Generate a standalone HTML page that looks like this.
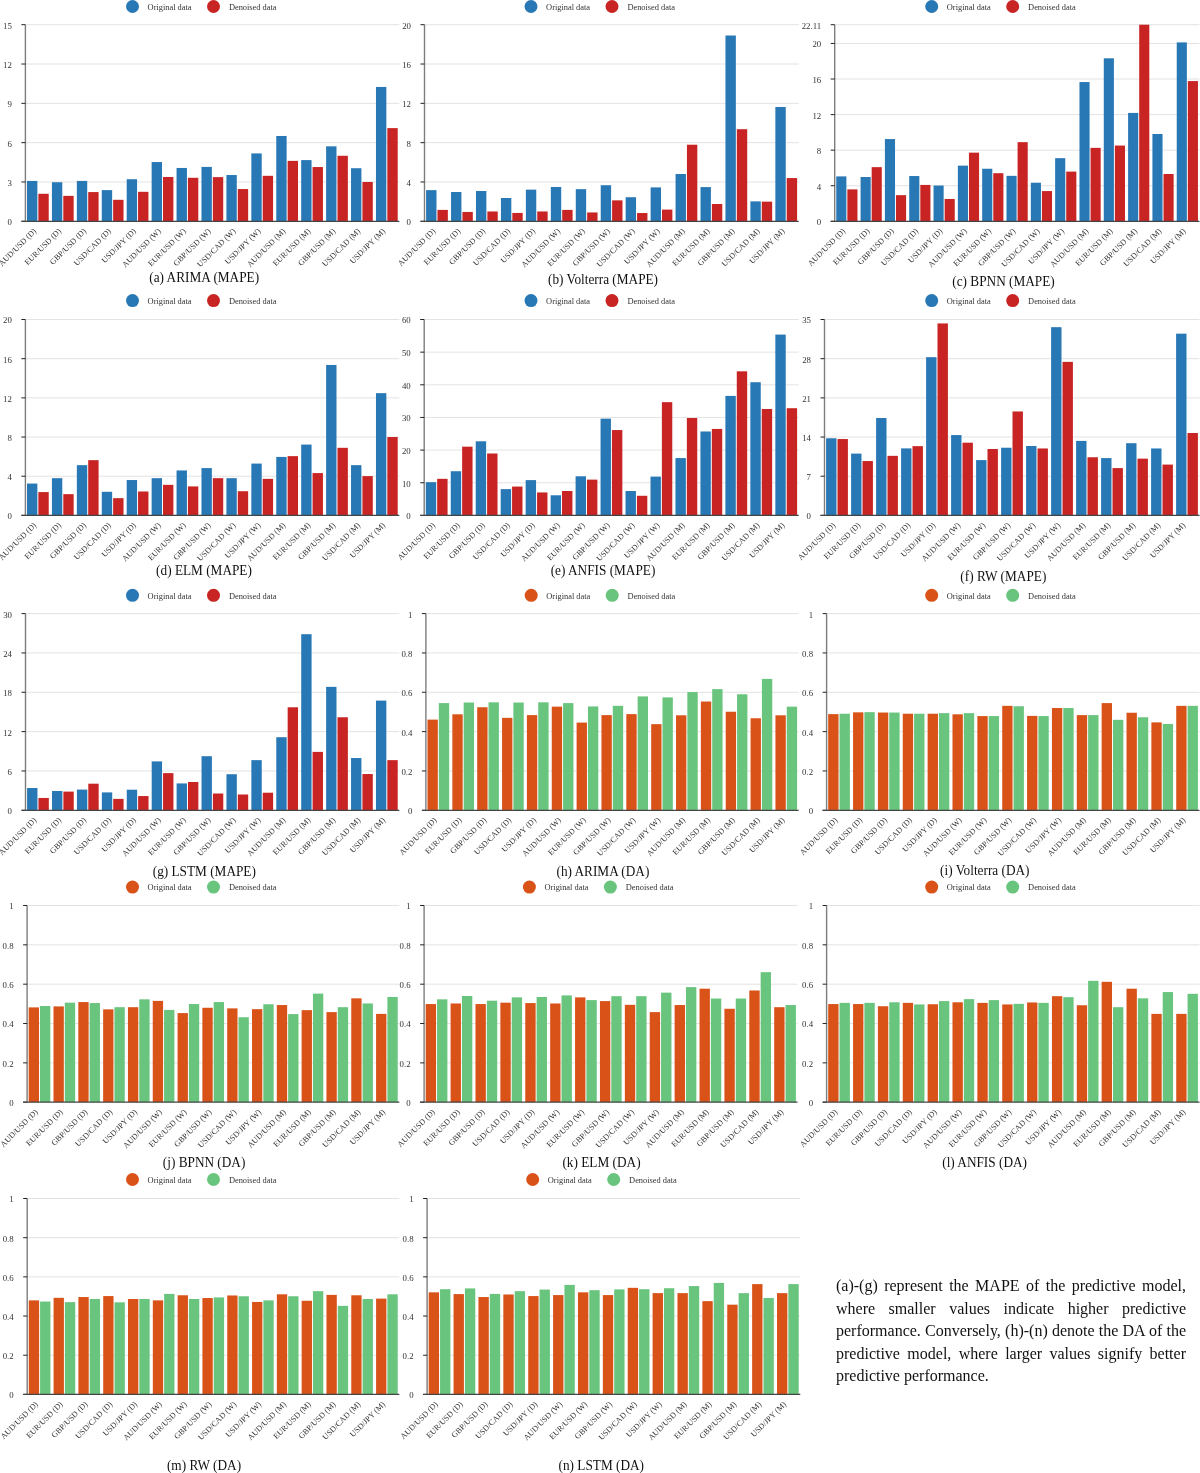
<!DOCTYPE html>
<html><head><meta charset="utf-8"><title>Figure</title>
<style>
html,body{margin:0;padding:0;background:#fff;}
body{width:1200px;height:1473px;position:relative;overflow:hidden;font-family:"Liberation Serif",serif;}
svg{position:absolute;left:0;top:0;will-change:transform;}
.yl{font-family:"Liberation Serif",serif;font-size:8.8px;fill:#333;text-anchor:end;}
.xl{font-family:"Liberation Serif",serif;font-size:8.1px;fill:#333;text-anchor:end;dominant-baseline:central;}
.lg{font-family:"Liberation Serif",serif;font-size:8.4px;fill:#333;}
.cap{font-family:"Liberation Serif",serif;font-size:14.6px;fill:#111;text-anchor:middle;}
.note{will-change:transform;position:absolute;left:835.8px;top:1274.9px;width:350px;font-family:"Liberation Serif",serif;font-size:16px;line-height:22.5px;color:#111;}
.note div{text-align:justify;text-align-last:justify;white-space:nowrap;}
.note div.last{text-align:left;text-align-last:left;}
</style></head>
<body>
<svg width="1200" height="1473" viewBox="0 0 1200 1473">
<rect width="1200" height="1473" fill="#fff"/>
<line x1="25.4" y1="181.98" x2="399.3" y2="181.98" stroke="#e3e3e3" stroke-width="1"/>
<line x1="25.4" y1="142.66" x2="399.3" y2="142.66" stroke="#e3e3e3" stroke-width="1"/>
<line x1="25.4" y1="103.34" x2="399.3" y2="103.34" stroke="#e3e3e3" stroke-width="1"/>
<line x1="25.4" y1="64.02" x2="399.3" y2="64.02" stroke="#e3e3e3" stroke-width="1"/>
<line x1="25.4" y1="24.7" x2="399.3" y2="24.7" stroke="#e3e3e3" stroke-width="1"/>
<rect x="27" y="180.93" width="10.37" height="40.37" fill="#2878B5"/>
<rect x="38.36" y="193.78" width="10.37" height="27.52" fill="#C82423"/>
<rect x="51.92" y="182.24" width="10.37" height="39.06" fill="#2878B5"/>
<rect x="63.29" y="195.87" width="10.37" height="25.43" fill="#C82423"/>
<rect x="76.85" y="180.93" width="10.37" height="40.37" fill="#2878B5"/>
<rect x="88.22" y="192.07" width="10.37" height="29.23" fill="#C82423"/>
<rect x="101.78" y="190.11" width="10.37" height="31.19" fill="#2878B5"/>
<rect x="113.14" y="199.81" width="10.37" height="21.49" fill="#C82423"/>
<rect x="126.7" y="179.23" width="10.37" height="42.07" fill="#2878B5"/>
<rect x="138.07" y="191.81" width="10.37" height="29.49" fill="#C82423"/>
<rect x="151.63" y="162.06" width="10.37" height="59.24" fill="#2878B5"/>
<rect x="163" y="177" width="10.37" height="44.3" fill="#C82423"/>
<rect x="176.56" y="167.96" width="10.37" height="53.34" fill="#2878B5"/>
<rect x="187.92" y="177.79" width="10.37" height="43.51" fill="#C82423"/>
<rect x="201.48" y="166.91" width="10.37" height="54.39" fill="#2878B5"/>
<rect x="212.85" y="177.13" width="10.37" height="44.17" fill="#C82423"/>
<rect x="226.41" y="175.03" width="10.37" height="46.27" fill="#2878B5"/>
<rect x="237.78" y="189.06" width="10.37" height="32.24" fill="#C82423"/>
<rect x="251.34" y="153.41" width="10.37" height="67.89" fill="#2878B5"/>
<rect x="262.7" y="175.82" width="10.37" height="45.48" fill="#C82423"/>
<rect x="276.26" y="135.98" width="10.37" height="85.32" fill="#2878B5"/>
<rect x="287.63" y="160.88" width="10.37" height="60.42" fill="#C82423"/>
<rect x="301.19" y="160.09" width="10.37" height="61.21" fill="#2878B5"/>
<rect x="312.56" y="167.04" width="10.37" height="54.26" fill="#C82423"/>
<rect x="326.12" y="146.33" width="10.37" height="74.97" fill="#2878B5"/>
<rect x="337.48" y="155.77" width="10.37" height="65.53" fill="#C82423"/>
<rect x="351.04" y="168.22" width="10.37" height="53.08" fill="#2878B5"/>
<rect x="362.41" y="181.98" width="10.37" height="39.32" fill="#C82423"/>
<rect x="375.97" y="86.96" width="10.37" height="134.34" fill="#2878B5"/>
<rect x="387.34" y="128.11" width="10.37" height="93.19" fill="#C82423"/>
<line x1="25.4" y1="24.7" x2="25.4" y2="221.3" stroke="#7d7d7d" stroke-width="1.4"/>
<line x1="21.4" y1="221.3" x2="25.4" y2="221.3" stroke="#222" stroke-width="1"/>
<line x1="21.4" y1="181.98" x2="25.4" y2="181.98" stroke="#222" stroke-width="1"/>
<line x1="21.4" y1="142.66" x2="25.4" y2="142.66" stroke="#222" stroke-width="1"/>
<line x1="21.4" y1="103.34" x2="25.4" y2="103.34" stroke="#222" stroke-width="1"/>
<line x1="21.4" y1="64.02" x2="25.4" y2="64.02" stroke="#222" stroke-width="1"/>
<line x1="21.4" y1="24.7" x2="25.4" y2="24.7" stroke="#222" stroke-width="1"/>
<line x1="21.4" y1="221.3" x2="399.3" y2="221.3" stroke="#444" stroke-width="1.2"/>
<text x="11.9" y="225.2" class="yl">0</text>
<text x="11.9" y="185.88" class="yl">3</text>
<text x="11.9" y="146.56" class="yl">6</text>
<text x="11.9" y="107.24" class="yl">9</text>
<text x="11.9" y="67.92" class="yl">12</text>
<text x="11.9" y="28.6" class="yl">15</text>
<text class="xl" transform="translate(34.96 229.9) rotate(-45)">AUD/USD (D)</text>
<text class="xl" transform="translate(59.89 229.9) rotate(-45)">EUR/USD (D)</text>
<text class="xl" transform="translate(84.82 229.9) rotate(-45)">GBP/USD (D)</text>
<text class="xl" transform="translate(109.74 229.9) rotate(-45)">USD/CAD (D)</text>
<text class="xl" transform="translate(134.67 229.9) rotate(-45)">USD/JPY (D)</text>
<text class="xl" transform="translate(159.6 229.9) rotate(-45)">AUD/USD (W)</text>
<text class="xl" transform="translate(184.52 229.9) rotate(-45)">EUR/USD (W)</text>
<text class="xl" transform="translate(209.45 229.9) rotate(-45)">GBP/USD (W)</text>
<text class="xl" transform="translate(234.38 229.9) rotate(-45)">USD/CAD (W)</text>
<text class="xl" transform="translate(259.3 229.9) rotate(-45)">USD/JPY (W)</text>
<text class="xl" transform="translate(284.23 229.9) rotate(-45)">AUD/USD (M)</text>
<text class="xl" transform="translate(309.16 229.9) rotate(-45)">EUR/USD (M)</text>
<text class="xl" transform="translate(334.08 229.9) rotate(-45)">GBP/USD (M)</text>
<text class="xl" transform="translate(359.01 229.9) rotate(-45)">USD/CAD (M)</text>
<text class="xl" transform="translate(383.94 229.9) rotate(-45)">USD/JPY (M)</text>
<circle cx="132.5" cy="6.5" r="6.5" fill="#2878B5"/>
<text x="147.6" y="9.8" class="lg">Original data</text>
<circle cx="213.5" cy="6.5" r="6.5" fill="#C82423"/>
<text x="228.9" y="9.8" class="lg">Denoised data</text>
<text class="cap" transform="translate(204.2 282) scale(0.91 1)">(a) ARIMA (MAPE)</text>
<line x1="424.5" y1="181.98" x2="798.7" y2="181.98" stroke="#e3e3e3" stroke-width="1"/>
<line x1="424.5" y1="142.66" x2="798.7" y2="142.66" stroke="#e3e3e3" stroke-width="1"/>
<line x1="424.5" y1="103.34" x2="798.7" y2="103.34" stroke="#e3e3e3" stroke-width="1"/>
<line x1="424.5" y1="64.02" x2="798.7" y2="64.02" stroke="#e3e3e3" stroke-width="1"/>
<line x1="424.5" y1="24.7" x2="798.7" y2="24.7" stroke="#e3e3e3" stroke-width="1"/>
<rect x="426.1" y="190.14" width="10.38" height="31.16" fill="#2878B5"/>
<rect x="437.47" y="209.9" width="10.38" height="11.4" fill="#C82423"/>
<rect x="451.04" y="192.01" width="10.38" height="29.29" fill="#2878B5"/>
<rect x="462.42" y="211.96" width="10.38" height="9.34" fill="#C82423"/>
<rect x="475.99" y="191.02" width="10.38" height="30.28" fill="#2878B5"/>
<rect x="487.37" y="211.47" width="10.38" height="9.83" fill="#C82423"/>
<rect x="500.94" y="198" width="10.38" height="23.3" fill="#2878B5"/>
<rect x="512.31" y="212.94" width="10.38" height="8.36" fill="#C82423"/>
<rect x="525.88" y="189.65" width="10.38" height="31.65" fill="#2878B5"/>
<rect x="537.26" y="211.47" width="10.38" height="9.83" fill="#C82423"/>
<rect x="550.83" y="186.99" width="10.38" height="34.31" fill="#2878B5"/>
<rect x="562.21" y="209.9" width="10.38" height="11.4" fill="#C82423"/>
<rect x="575.78" y="189.16" width="10.38" height="32.14" fill="#2878B5"/>
<rect x="587.15" y="212.45" width="10.38" height="8.85" fill="#C82423"/>
<rect x="600.72" y="185.22" width="10.38" height="36.08" fill="#2878B5"/>
<rect x="612.1" y="200.36" width="10.38" height="20.94" fill="#C82423"/>
<rect x="625.67" y="197.22" width="10.38" height="24.08" fill="#2878B5"/>
<rect x="637.05" y="213.04" width="10.38" height="8.26" fill="#C82423"/>
<rect x="650.62" y="187.39" width="10.38" height="33.91" fill="#2878B5"/>
<rect x="661.99" y="209.6" width="10.38" height="11.7" fill="#C82423"/>
<rect x="675.56" y="174.02" width="10.38" height="47.28" fill="#2878B5"/>
<rect x="686.94" y="144.72" width="10.38" height="76.58" fill="#C82423"/>
<rect x="700.51" y="187.09" width="10.38" height="34.21" fill="#2878B5"/>
<rect x="711.89" y="204" width="10.38" height="17.3" fill="#C82423"/>
<rect x="725.46" y="35.51" width="10.38" height="185.79" fill="#2878B5"/>
<rect x="736.83" y="129.19" width="10.38" height="92.11" fill="#C82423"/>
<rect x="750.4" y="201.35" width="10.38" height="19.95" fill="#2878B5"/>
<rect x="761.78" y="201.64" width="10.38" height="19.66" fill="#C82423"/>
<rect x="775.35" y="106.98" width="10.38" height="114.32" fill="#2878B5"/>
<rect x="786.73" y="178.05" width="10.38" height="43.25" fill="#C82423"/>
<line x1="424.5" y1="24.7" x2="424.5" y2="221.3" stroke="#7d7d7d" stroke-width="1.4"/>
<line x1="420.5" y1="221.3" x2="424.5" y2="221.3" stroke="#222" stroke-width="1"/>
<line x1="420.5" y1="181.98" x2="424.5" y2="181.98" stroke="#222" stroke-width="1"/>
<line x1="420.5" y1="142.66" x2="424.5" y2="142.66" stroke="#222" stroke-width="1"/>
<line x1="420.5" y1="103.34" x2="424.5" y2="103.34" stroke="#222" stroke-width="1"/>
<line x1="420.5" y1="64.02" x2="424.5" y2="64.02" stroke="#222" stroke-width="1"/>
<line x1="420.5" y1="24.7" x2="424.5" y2="24.7" stroke="#222" stroke-width="1"/>
<line x1="420.5" y1="221.3" x2="798.7" y2="221.3" stroke="#444" stroke-width="1.2"/>
<text x="411" y="225.2" class="yl">0</text>
<text x="411" y="185.88" class="yl">4</text>
<text x="411" y="146.56" class="yl">8</text>
<text x="411" y="107.24" class="yl">12</text>
<text x="411" y="67.92" class="yl">16</text>
<text x="411" y="28.6" class="yl">20</text>
<text class="xl" transform="translate(434.07 229.9) rotate(-45)">AUD/USD (D)</text>
<text class="xl" transform="translate(459.02 229.9) rotate(-45)">EUR/USD (D)</text>
<text class="xl" transform="translate(483.97 229.9) rotate(-45)">GBP/USD (D)</text>
<text class="xl" transform="translate(508.91 229.9) rotate(-45)">USD/CAD (D)</text>
<text class="xl" transform="translate(533.86 229.9) rotate(-45)">USD/JPY (D)</text>
<text class="xl" transform="translate(558.81 229.9) rotate(-45)">AUD/USD (W)</text>
<text class="xl" transform="translate(583.75 229.9) rotate(-45)">EUR/USD (W)</text>
<text class="xl" transform="translate(608.7 229.9) rotate(-45)">GBP/USD (W)</text>
<text class="xl" transform="translate(633.65 229.9) rotate(-45)">USD/CAD (W)</text>
<text class="xl" transform="translate(658.59 229.9) rotate(-45)">USD/JPY (W)</text>
<text class="xl" transform="translate(683.54 229.9) rotate(-45)">AUD/USD (M)</text>
<text class="xl" transform="translate(708.49 229.9) rotate(-45)">EUR/USD (M)</text>
<text class="xl" transform="translate(733.43 229.9) rotate(-45)">GBP/USD (M)</text>
<text class="xl" transform="translate(758.38 229.9) rotate(-45)">USD/CAD (M)</text>
<text class="xl" transform="translate(783.33 229.9) rotate(-45)">USD/JPY (M)</text>
<circle cx="531" cy="6.5" r="6.5" fill="#2878B5"/>
<text x="546.1" y="9.8" class="lg">Original data</text>
<circle cx="612" cy="6.5" r="6.5" fill="#C82423"/>
<text x="627.4" y="9.8" class="lg">Denoised data</text>
<text class="cap" transform="translate(603 284) scale(0.91 1)">(b) Volterra (MAPE)</text>
<line x1="834.7" y1="185.73" x2="1199.5" y2="185.73" stroke="#e3e3e3" stroke-width="1"/>
<line x1="834.7" y1="150.16" x2="1199.5" y2="150.16" stroke="#e3e3e3" stroke-width="1"/>
<line x1="834.7" y1="114.6" x2="1199.5" y2="114.6" stroke="#e3e3e3" stroke-width="1"/>
<line x1="834.7" y1="79.03" x2="1199.5" y2="79.03" stroke="#e3e3e3" stroke-width="1"/>
<line x1="834.7" y1="43.46" x2="1199.5" y2="43.46" stroke="#e3e3e3" stroke-width="1"/>
<line x1="834.7" y1="24.7" x2="1199.5" y2="24.7" stroke="#e3e3e3" stroke-width="1"/>
<rect x="836.26" y="176.4" width="10.12" height="44.9" fill="#2878B5"/>
<rect x="847.35" y="189.38" width="10.12" height="31.92" fill="#C82423"/>
<rect x="860.58" y="177.02" width="10.12" height="44.28" fill="#2878B5"/>
<rect x="871.67" y="167.15" width="10.12" height="54.15" fill="#C82423"/>
<rect x="884.9" y="139.05" width="10.12" height="82.25" fill="#2878B5"/>
<rect x="895.99" y="195.16" width="10.12" height="26.14" fill="#C82423"/>
<rect x="909.22" y="176.04" width="10.12" height="45.26" fill="#2878B5"/>
<rect x="920.31" y="184.93" width="10.12" height="36.37" fill="#C82423"/>
<rect x="933.54" y="185.55" width="10.12" height="35.75" fill="#2878B5"/>
<rect x="944.63" y="198.98" width="10.12" height="22.32" fill="#C82423"/>
<rect x="957.86" y="165.64" width="10.12" height="55.66" fill="#2878B5"/>
<rect x="968.95" y="152.65" width="10.12" height="68.65" fill="#C82423"/>
<rect x="982.18" y="168.75" width="10.12" height="52.55" fill="#2878B5"/>
<rect x="993.27" y="173.19" width="10.12" height="48.11" fill="#C82423"/>
<rect x="1006.5" y="175.86" width="10.12" height="45.44" fill="#2878B5"/>
<rect x="1017.59" y="142.16" width="10.12" height="79.14" fill="#C82423"/>
<rect x="1030.82" y="182.71" width="10.12" height="38.59" fill="#2878B5"/>
<rect x="1041.91" y="191.07" width="10.12" height="30.23" fill="#C82423"/>
<rect x="1055.14" y="158.17" width="10.12" height="63.13" fill="#2878B5"/>
<rect x="1066.23" y="171.59" width="10.12" height="49.71" fill="#C82423"/>
<rect x="1079.46" y="82.05" width="10.12" height="139.25" fill="#2878B5"/>
<rect x="1090.55" y="147.85" width="10.12" height="73.45" fill="#C82423"/>
<rect x="1103.78" y="58.31" width="10.12" height="162.99" fill="#2878B5"/>
<rect x="1114.87" y="145.54" width="10.12" height="75.76" fill="#C82423"/>
<rect x="1128.1" y="112.91" width="10.12" height="108.39" fill="#2878B5"/>
<rect x="1139.19" y="24.7" width="10.12" height="196.6" fill="#C82423"/>
<rect x="1152.42" y="133.98" width="10.12" height="87.32" fill="#2878B5"/>
<rect x="1163.51" y="174" width="10.12" height="47.3" fill="#C82423"/>
<rect x="1176.74" y="42.39" width="10.12" height="178.91" fill="#2878B5"/>
<rect x="1187.83" y="81.07" width="10.12" height="140.23" fill="#C82423"/>
<line x1="834.7" y1="24.7" x2="834.7" y2="221.3" stroke="#7d7d7d" stroke-width="1.4"/>
<line x1="830.7" y1="221.3" x2="834.7" y2="221.3" stroke="#222" stroke-width="1"/>
<line x1="830.7" y1="185.73" x2="834.7" y2="185.73" stroke="#222" stroke-width="1"/>
<line x1="830.7" y1="150.16" x2="834.7" y2="150.16" stroke="#222" stroke-width="1"/>
<line x1="830.7" y1="114.6" x2="834.7" y2="114.6" stroke="#222" stroke-width="1"/>
<line x1="830.7" y1="79.03" x2="834.7" y2="79.03" stroke="#222" stroke-width="1"/>
<line x1="830.7" y1="43.46" x2="834.7" y2="43.46" stroke="#222" stroke-width="1"/>
<line x1="830.7" y1="24.7" x2="834.7" y2="24.7" stroke="#222" stroke-width="1"/>
<line x1="830.7" y1="221.3" x2="1199.5" y2="221.3" stroke="#444" stroke-width="1.2"/>
<text x="821.2" y="225.2" class="yl">0</text>
<text x="821.2" y="189.64" class="yl">4</text>
<text x="821.2" y="154.07" class="yl">8</text>
<text x="821.2" y="118.5" class="yl">12</text>
<text x="821.2" y="82.93" class="yl">16</text>
<text x="821.2" y="47.37" class="yl">20</text>
<text x="821.2" y="28.6" class="yl">22.11</text>
<text class="xl" transform="translate(843.96 229.9) rotate(-45)">AUD/USD (D)</text>
<text class="xl" transform="translate(868.28 229.9) rotate(-45)">EUR/USD (D)</text>
<text class="xl" transform="translate(892.6 229.9) rotate(-45)">GBP/USD (D)</text>
<text class="xl" transform="translate(916.92 229.9) rotate(-45)">USD/CAD (D)</text>
<text class="xl" transform="translate(941.24 229.9) rotate(-45)">USD/JPY (D)</text>
<text class="xl" transform="translate(965.56 229.9) rotate(-45)">AUD/USD (W)</text>
<text class="xl" transform="translate(989.88 229.9) rotate(-45)">EUR/USD (W)</text>
<text class="xl" transform="translate(1014.2 229.9) rotate(-45)">GBP/USD (W)</text>
<text class="xl" transform="translate(1038.52 229.9) rotate(-45)">USD/CAD (W)</text>
<text class="xl" transform="translate(1062.84 229.9) rotate(-45)">USD/JPY (W)</text>
<text class="xl" transform="translate(1087.16 229.9) rotate(-45)">AUD/USD (M)</text>
<text class="xl" transform="translate(1111.48 229.9) rotate(-45)">EUR/USD (M)</text>
<text class="xl" transform="translate(1135.8 229.9) rotate(-45)">GBP/USD (M)</text>
<text class="xl" transform="translate(1160.12 229.9) rotate(-45)">USD/CAD (M)</text>
<text class="xl" transform="translate(1184.44 229.9) rotate(-45)">USD/JPY (M)</text>
<circle cx="931.7" cy="6.5" r="6.5" fill="#2878B5"/>
<text x="946.8" y="9.8" class="lg">Original data</text>
<circle cx="1012.7" cy="6.5" r="6.5" fill="#C82423"/>
<text x="1028.1" y="9.8" class="lg">Denoised data</text>
<text class="cap" transform="translate(1003.5 286.4) scale(0.91 1)">(c) BPNN (MAPE)</text>
<line x1="25.4" y1="476.22" x2="399.3" y2="476.22" stroke="#e3e3e3" stroke-width="1"/>
<line x1="25.4" y1="437.04" x2="399.3" y2="437.04" stroke="#e3e3e3" stroke-width="1"/>
<line x1="25.4" y1="397.86" x2="399.3" y2="397.86" stroke="#e3e3e3" stroke-width="1"/>
<line x1="25.4" y1="358.68" x2="399.3" y2="358.68" stroke="#e3e3e3" stroke-width="1"/>
<line x1="25.4" y1="319.5" x2="399.3" y2="319.5" stroke="#e3e3e3" stroke-width="1"/>
<rect x="27" y="483.57" width="10.37" height="31.83" fill="#2878B5"/>
<rect x="38.36" y="492.09" width="10.37" height="23.31" fill="#C82423"/>
<rect x="51.92" y="478.18" width="10.37" height="37.22" fill="#2878B5"/>
<rect x="63.29" y="494.14" width="10.37" height="21.26" fill="#C82423"/>
<rect x="76.85" y="465.15" width="10.37" height="50.25" fill="#2878B5"/>
<rect x="88.22" y="460.16" width="10.37" height="55.24" fill="#C82423"/>
<rect x="101.78" y="491.79" width="10.37" height="23.61" fill="#2878B5"/>
<rect x="113.14" y="498.16" width="10.37" height="17.24" fill="#C82423"/>
<rect x="126.7" y="480.04" width="10.37" height="35.36" fill="#2878B5"/>
<rect x="138.07" y="491.5" width="10.37" height="23.9" fill="#C82423"/>
<rect x="151.63" y="478.18" width="10.37" height="37.22" fill="#2878B5"/>
<rect x="163" y="484.84" width="10.37" height="30.56" fill="#C82423"/>
<rect x="176.56" y="470.44" width="10.37" height="44.96" fill="#2878B5"/>
<rect x="187.92" y="486.41" width="10.37" height="28.99" fill="#C82423"/>
<rect x="201.48" y="468.09" width="10.37" height="47.31" fill="#2878B5"/>
<rect x="212.85" y="478.18" width="10.37" height="37.22" fill="#C82423"/>
<rect x="226.41" y="478.18" width="10.37" height="37.22" fill="#2878B5"/>
<rect x="237.78" y="491.21" width="10.37" height="24.19" fill="#C82423"/>
<rect x="251.34" y="463.58" width="10.37" height="51.82" fill="#2878B5"/>
<rect x="262.7" y="478.86" width="10.37" height="36.54" fill="#C82423"/>
<rect x="276.26" y="456.92" width="10.37" height="58.48" fill="#2878B5"/>
<rect x="287.63" y="456.14" width="10.37" height="59.26" fill="#C82423"/>
<rect x="301.19" y="444.58" width="10.37" height="70.82" fill="#2878B5"/>
<rect x="312.56" y="473.09" width="10.37" height="42.31" fill="#C82423"/>
<rect x="326.12" y="364.95" width="10.37" height="150.45" fill="#2878B5"/>
<rect x="337.48" y="447.81" width="10.37" height="67.59" fill="#C82423"/>
<rect x="351.04" y="465.15" width="10.37" height="50.25" fill="#2878B5"/>
<rect x="362.41" y="476.12" width="10.37" height="39.28" fill="#C82423"/>
<rect x="375.97" y="393.16" width="10.37" height="122.24" fill="#2878B5"/>
<rect x="387.34" y="437.04" width="10.37" height="78.36" fill="#C82423"/>
<line x1="25.4" y1="319.5" x2="25.4" y2="515.4" stroke="#7d7d7d" stroke-width="1.4"/>
<line x1="21.4" y1="515.4" x2="25.4" y2="515.4" stroke="#222" stroke-width="1"/>
<line x1="21.4" y1="476.22" x2="25.4" y2="476.22" stroke="#222" stroke-width="1"/>
<line x1="21.4" y1="437.04" x2="25.4" y2="437.04" stroke="#222" stroke-width="1"/>
<line x1="21.4" y1="397.86" x2="25.4" y2="397.86" stroke="#222" stroke-width="1"/>
<line x1="21.4" y1="358.68" x2="25.4" y2="358.68" stroke="#222" stroke-width="1"/>
<line x1="21.4" y1="319.5" x2="25.4" y2="319.5" stroke="#222" stroke-width="1"/>
<line x1="21.4" y1="515.4" x2="399.3" y2="515.4" stroke="#444" stroke-width="1.2"/>
<text x="11.9" y="519.3" class="yl">0</text>
<text x="11.9" y="480.12" class="yl">4</text>
<text x="11.9" y="440.94" class="yl">8</text>
<text x="11.9" y="401.76" class="yl">12</text>
<text x="11.9" y="362.58" class="yl">16</text>
<text x="11.9" y="323.4" class="yl">20</text>
<text class="xl" transform="translate(34.96 524) rotate(-45)">AUD/USD (D)</text>
<text class="xl" transform="translate(59.89 524) rotate(-45)">EUR/USD (D)</text>
<text class="xl" transform="translate(84.82 524) rotate(-45)">GBP/USD (D)</text>
<text class="xl" transform="translate(109.74 524) rotate(-45)">USD/CAD (D)</text>
<text class="xl" transform="translate(134.67 524) rotate(-45)">USD/JPY (D)</text>
<text class="xl" transform="translate(159.6 524) rotate(-45)">AUD/USD (W)</text>
<text class="xl" transform="translate(184.52 524) rotate(-45)">EUR/USD (W)</text>
<text class="xl" transform="translate(209.45 524) rotate(-45)">GBP/USD (W)</text>
<text class="xl" transform="translate(234.38 524) rotate(-45)">USD/CAD (W)</text>
<text class="xl" transform="translate(259.3 524) rotate(-45)">USD/JPY (W)</text>
<text class="xl" transform="translate(284.23 524) rotate(-45)">AUD/USD (M)</text>
<text class="xl" transform="translate(309.16 524) rotate(-45)">EUR/USD (M)</text>
<text class="xl" transform="translate(334.08 524) rotate(-45)">GBP/USD (M)</text>
<text class="xl" transform="translate(359.01 524) rotate(-45)">USD/CAD (M)</text>
<text class="xl" transform="translate(383.94 524) rotate(-45)">USD/JPY (M)</text>
<circle cx="132.5" cy="300.6" r="6.5" fill="#2878B5"/>
<text x="147.6" y="303.9" class="lg">Original data</text>
<circle cx="213.5" cy="300.6" r="6.5" fill="#C82423"/>
<text x="228.9" y="303.9" class="lg">Denoised data</text>
<text class="cap" transform="translate(204 574.9) scale(0.91 1)">(d) ELM (MAPE)</text>
<line x1="424.2" y1="482.75" x2="798.7" y2="482.75" stroke="#e3e3e3" stroke-width="1"/>
<line x1="424.2" y1="450.1" x2="798.7" y2="450.1" stroke="#e3e3e3" stroke-width="1"/>
<line x1="424.2" y1="417.45" x2="798.7" y2="417.45" stroke="#e3e3e3" stroke-width="1"/>
<line x1="424.2" y1="384.8" x2="798.7" y2="384.8" stroke="#e3e3e3" stroke-width="1"/>
<line x1="424.2" y1="352.15" x2="798.7" y2="352.15" stroke="#e3e3e3" stroke-width="1"/>
<line x1="424.2" y1="319.5" x2="798.7" y2="319.5" stroke="#e3e3e3" stroke-width="1"/>
<rect x="425.8" y="482.16" width="10.39" height="33.24" fill="#2878B5"/>
<rect x="437.18" y="478.83" width="10.39" height="36.57" fill="#C82423"/>
<rect x="450.76" y="471.22" width="10.39" height="44.18" fill="#2878B5"/>
<rect x="462.15" y="446.67" width="10.39" height="68.73" fill="#C82423"/>
<rect x="475.73" y="441.28" width="10.39" height="74.12" fill="#2878B5"/>
<rect x="487.12" y="453.5" width="10.39" height="61.9" fill="#C82423"/>
<rect x="500.7" y="489.12" width="10.39" height="26.28" fill="#2878B5"/>
<rect x="512.08" y="486.57" width="10.39" height="28.83" fill="#C82423"/>
<rect x="525.66" y="480.11" width="10.39" height="35.29" fill="#2878B5"/>
<rect x="537.05" y="492.45" width="10.39" height="22.95" fill="#C82423"/>
<rect x="550.63" y="495.29" width="10.39" height="20.11" fill="#2878B5"/>
<rect x="562.02" y="491.01" width="10.39" height="24.39" fill="#C82423"/>
<rect x="575.6" y="476.29" width="10.39" height="39.11" fill="#2878B5"/>
<rect x="586.98" y="479.62" width="10.39" height="35.78" fill="#C82423"/>
<rect x="600.56" y="418.66" width="10.39" height="96.74" fill="#2878B5"/>
<rect x="611.95" y="430.05" width="10.39" height="85.35" fill="#C82423"/>
<rect x="625.53" y="491.01" width="10.39" height="24.39" fill="#2878B5"/>
<rect x="636.92" y="495.78" width="10.39" height="19.62" fill="#C82423"/>
<rect x="650.5" y="476.61" width="10.39" height="38.79" fill="#2878B5"/>
<rect x="661.88" y="402.17" width="10.39" height="113.23" fill="#C82423"/>
<rect x="675.46" y="458.07" width="10.39" height="57.33" fill="#2878B5"/>
<rect x="686.85" y="418.01" width="10.39" height="97.39" fill="#C82423"/>
<rect x="700.43" y="431.49" width="10.39" height="83.91" fill="#2878B5"/>
<rect x="711.82" y="428.94" width="10.39" height="86.46" fill="#C82423"/>
<rect x="725.4" y="395.9" width="10.39" height="119.5" fill="#2878B5"/>
<rect x="736.78" y="371.32" width="10.39" height="144.08" fill="#C82423"/>
<rect x="750.36" y="382.22" width="10.39" height="133.18" fill="#2878B5"/>
<rect x="761.75" y="408.99" width="10.39" height="106.41" fill="#C82423"/>
<rect x="775.33" y="334.58" width="10.39" height="180.82" fill="#2878B5"/>
<rect x="786.72" y="408.21" width="10.39" height="107.19" fill="#C82423"/>
<line x1="424.2" y1="319.5" x2="424.2" y2="515.4" stroke="#7d7d7d" stroke-width="1.4"/>
<line x1="420.2" y1="515.4" x2="424.2" y2="515.4" stroke="#222" stroke-width="1"/>
<line x1="420.2" y1="482.75" x2="424.2" y2="482.75" stroke="#222" stroke-width="1"/>
<line x1="420.2" y1="450.1" x2="424.2" y2="450.1" stroke="#222" stroke-width="1"/>
<line x1="420.2" y1="417.45" x2="424.2" y2="417.45" stroke="#222" stroke-width="1"/>
<line x1="420.2" y1="384.8" x2="424.2" y2="384.8" stroke="#222" stroke-width="1"/>
<line x1="420.2" y1="352.15" x2="424.2" y2="352.15" stroke="#222" stroke-width="1"/>
<line x1="420.2" y1="319.5" x2="424.2" y2="319.5" stroke="#222" stroke-width="1"/>
<line x1="420.2" y1="515.4" x2="798.7" y2="515.4" stroke="#444" stroke-width="1.2"/>
<text x="410.7" y="519.3" class="yl">0</text>
<text x="410.7" y="486.65" class="yl">10</text>
<text x="410.7" y="454" class="yl">20</text>
<text x="410.7" y="421.35" class="yl">30</text>
<text x="410.7" y="388.7" class="yl">40</text>
<text x="410.7" y="356.05" class="yl">50</text>
<text x="410.7" y="323.4" class="yl">60</text>
<text class="xl" transform="translate(433.78 524) rotate(-45)">AUD/USD (D)</text>
<text class="xl" transform="translate(458.75 524) rotate(-45)">EUR/USD (D)</text>
<text class="xl" transform="translate(483.72 524) rotate(-45)">GBP/USD (D)</text>
<text class="xl" transform="translate(508.68 524) rotate(-45)">USD/CAD (D)</text>
<text class="xl" transform="translate(533.65 524) rotate(-45)">USD/JPY (D)</text>
<text class="xl" transform="translate(558.62 524) rotate(-45)">AUD/USD (W)</text>
<text class="xl" transform="translate(583.58 524) rotate(-45)">EUR/USD (W)</text>
<text class="xl" transform="translate(608.55 524) rotate(-45)">GBP/USD (W)</text>
<text class="xl" transform="translate(633.52 524) rotate(-45)">USD/CAD (W)</text>
<text class="xl" transform="translate(658.48 524) rotate(-45)">USD/JPY (W)</text>
<text class="xl" transform="translate(683.45 524) rotate(-45)">AUD/USD (M)</text>
<text class="xl" transform="translate(708.42 524) rotate(-45)">EUR/USD (M)</text>
<text class="xl" transform="translate(733.38 524) rotate(-45)">GBP/USD (M)</text>
<text class="xl" transform="translate(758.35 524) rotate(-45)">USD/CAD (M)</text>
<text class="xl" transform="translate(783.32 524) rotate(-45)">USD/JPY (M)</text>
<circle cx="531" cy="300.6" r="6.5" fill="#2878B5"/>
<text x="546.1" y="303.9" class="lg">Original data</text>
<circle cx="612" cy="300.6" r="6.5" fill="#C82423"/>
<text x="627.4" y="303.9" class="lg">Denoised data</text>
<text class="cap" transform="translate(603 574.9) scale(0.91 1)">(e) ANFIS (MAPE)</text>
<line x1="824.5" y1="476.22" x2="1199.5" y2="476.22" stroke="#e3e3e3" stroke-width="1"/>
<line x1="824.5" y1="437.04" x2="1199.5" y2="437.04" stroke="#e3e3e3" stroke-width="1"/>
<line x1="824.5" y1="397.86" x2="1199.5" y2="397.86" stroke="#e3e3e3" stroke-width="1"/>
<line x1="824.5" y1="358.68" x2="1199.5" y2="358.68" stroke="#e3e3e3" stroke-width="1"/>
<line x1="824.5" y1="319.5" x2="1199.5" y2="319.5" stroke="#e3e3e3" stroke-width="1"/>
<rect x="826.1" y="438.27" width="10.4" height="77.13" fill="#2878B5"/>
<rect x="837.5" y="439.05" width="10.4" height="76.35" fill="#C82423"/>
<rect x="851.1" y="453.61" width="10.4" height="61.79" fill="#2878B5"/>
<rect x="862.5" y="461.05" width="10.4" height="54.35" fill="#C82423"/>
<rect x="876.1" y="418.01" width="10.4" height="97.39" fill="#2878B5"/>
<rect x="887.5" y="455.85" width="10.4" height="59.55" fill="#C82423"/>
<rect x="901.1" y="448.4" width="10.4" height="67" fill="#2878B5"/>
<rect x="912.5" y="446.16" width="10.4" height="69.24" fill="#C82423"/>
<rect x="926.1" y="357.17" width="10.4" height="158.23" fill="#2878B5"/>
<rect x="937.5" y="323.42" width="10.4" height="191.98" fill="#C82423"/>
<rect x="951.1" y="435.08" width="10.4" height="80.32" fill="#2878B5"/>
<rect x="962.5" y="442.69" width="10.4" height="72.71" fill="#C82423"/>
<rect x="976.1" y="460.1" width="10.4" height="55.3" fill="#2878B5"/>
<rect x="987.5" y="449.02" width="10.4" height="66.38" fill="#C82423"/>
<rect x="1001.1" y="447.73" width="10.4" height="67.67" fill="#2878B5"/>
<rect x="1012.5" y="411.46" width="10.4" height="103.94" fill="#C82423"/>
<rect x="1026.1" y="446" width="10.4" height="69.4" fill="#2878B5"/>
<rect x="1037.5" y="448.46" width="10.4" height="66.94" fill="#C82423"/>
<rect x="1051.1" y="327.17" width="10.4" height="188.23" fill="#2878B5"/>
<rect x="1062.5" y="361.87" width="10.4" height="153.53" fill="#C82423"/>
<rect x="1076.1" y="440.9" width="10.4" height="74.5" fill="#2878B5"/>
<rect x="1087.5" y="457.25" width="10.4" height="58.15" fill="#C82423"/>
<rect x="1101.1" y="458.09" width="10.4" height="57.31" fill="#2878B5"/>
<rect x="1112.5" y="468.1" width="10.4" height="47.3" fill="#C82423"/>
<rect x="1126.1" y="443.2" width="10.4" height="72.2" fill="#2878B5"/>
<rect x="1137.5" y="458.64" width="10.4" height="56.76" fill="#C82423"/>
<rect x="1151.1" y="448.46" width="10.4" height="66.94" fill="#2878B5"/>
<rect x="1162.5" y="464.58" width="10.4" height="50.82" fill="#C82423"/>
<rect x="1176.1" y="333.66" width="10.4" height="181.74" fill="#2878B5"/>
<rect x="1187.5" y="433.01" width="10.4" height="82.39" fill="#C82423"/>
<line x1="824.5" y1="319.5" x2="824.5" y2="515.4" stroke="#7d7d7d" stroke-width="1.4"/>
<line x1="820.5" y1="515.4" x2="824.5" y2="515.4" stroke="#222" stroke-width="1"/>
<line x1="820.5" y1="476.22" x2="824.5" y2="476.22" stroke="#222" stroke-width="1"/>
<line x1="820.5" y1="437.04" x2="824.5" y2="437.04" stroke="#222" stroke-width="1"/>
<line x1="820.5" y1="397.86" x2="824.5" y2="397.86" stroke="#222" stroke-width="1"/>
<line x1="820.5" y1="358.68" x2="824.5" y2="358.68" stroke="#222" stroke-width="1"/>
<line x1="820.5" y1="319.5" x2="824.5" y2="319.5" stroke="#222" stroke-width="1"/>
<line x1="820.5" y1="515.4" x2="1199.5" y2="515.4" stroke="#444" stroke-width="1.2"/>
<text x="811" y="519.3" class="yl">0</text>
<text x="811" y="480.12" class="yl">7</text>
<text x="811" y="440.94" class="yl">14</text>
<text x="811" y="401.76" class="yl">21</text>
<text x="811" y="362.58" class="yl">28</text>
<text x="811" y="323.4" class="yl">35</text>
<text class="xl" transform="translate(834.1 524) rotate(-45)">AUD/USD (D)</text>
<text class="xl" transform="translate(859.1 524) rotate(-45)">EUR/USD (D)</text>
<text class="xl" transform="translate(884.1 524) rotate(-45)">GBP/USD (D)</text>
<text class="xl" transform="translate(909.1 524) rotate(-45)">USD/CAD (D)</text>
<text class="xl" transform="translate(934.1 524) rotate(-45)">USD/JPY (D)</text>
<text class="xl" transform="translate(959.1 524) rotate(-45)">AUD/USD (W)</text>
<text class="xl" transform="translate(984.1 524) rotate(-45)">EUR/USD (W)</text>
<text class="xl" transform="translate(1009.1 524) rotate(-45)">GBP/USD (W)</text>
<text class="xl" transform="translate(1034.1 524) rotate(-45)">USD/CAD (W)</text>
<text class="xl" transform="translate(1059.1 524) rotate(-45)">USD/JPY (W)</text>
<text class="xl" transform="translate(1084.1 524) rotate(-45)">AUD/USD (M)</text>
<text class="xl" transform="translate(1109.1 524) rotate(-45)">EUR/USD (M)</text>
<text class="xl" transform="translate(1134.1 524) rotate(-45)">GBP/USD (M)</text>
<text class="xl" transform="translate(1159.1 524) rotate(-45)">USD/CAD (M)</text>
<text class="xl" transform="translate(1184.1 524) rotate(-45)">USD/JPY (M)</text>
<circle cx="931.7" cy="300.6" r="6.5" fill="#2878B5"/>
<text x="946.8" y="303.9" class="lg">Original data</text>
<circle cx="1012.7" cy="300.6" r="6.5" fill="#C82423"/>
<text x="1028.1" y="303.9" class="lg">Denoised data</text>
<text class="cap" transform="translate(1003.3 580.9) scale(0.91 1)">(f) RW (MAPE)</text>
<line x1="25.5" y1="770.96" x2="399.3" y2="770.96" stroke="#e3e3e3" stroke-width="1"/>
<line x1="25.5" y1="731.62" x2="399.3" y2="731.62" stroke="#e3e3e3" stroke-width="1"/>
<line x1="25.5" y1="692.28" x2="399.3" y2="692.28" stroke="#e3e3e3" stroke-width="1"/>
<line x1="25.5" y1="652.94" x2="399.3" y2="652.94" stroke="#e3e3e3" stroke-width="1"/>
<line x1="25.5" y1="613.6" x2="399.3" y2="613.6" stroke="#e3e3e3" stroke-width="1"/>
<rect x="27.09" y="788.01" width="10.37" height="22.29" fill="#2878B5"/>
<rect x="38.46" y="797.97" width="10.37" height="12.33" fill="#C82423"/>
<rect x="52.01" y="791.02" width="10.37" height="19.28" fill="#2878B5"/>
<rect x="63.38" y="791.61" width="10.37" height="18.69" fill="#C82423"/>
<rect x="76.93" y="789.58" width="10.37" height="20.72" fill="#2878B5"/>
<rect x="88.3" y="783.68" width="10.37" height="26.62" fill="#C82423"/>
<rect x="101.85" y="792.4" width="10.37" height="17.9" fill="#2878B5"/>
<rect x="113.22" y="798.89" width="10.37" height="11.41" fill="#C82423"/>
<rect x="126.77" y="789.71" width="10.37" height="20.59" fill="#2878B5"/>
<rect x="138.14" y="796.07" width="10.37" height="14.23" fill="#C82423"/>
<rect x="151.69" y="761.39" width="10.37" height="48.91" fill="#2878B5"/>
<rect x="163.06" y="773.12" width="10.37" height="37.18" fill="#C82423"/>
<rect x="176.61" y="783.42" width="10.37" height="26.88" fill="#2878B5"/>
<rect x="187.98" y="781.98" width="10.37" height="28.32" fill="#C82423"/>
<rect x="201.53" y="756.21" width="10.37" height="54.09" fill="#2878B5"/>
<rect x="212.9" y="793.51" width="10.37" height="16.79" fill="#C82423"/>
<rect x="226.45" y="774.24" width="10.37" height="36.06" fill="#2878B5"/>
<rect x="237.82" y="794.5" width="10.37" height="15.8" fill="#C82423"/>
<rect x="251.37" y="760.14" width="10.37" height="50.16" fill="#2878B5"/>
<rect x="262.74" y="792.73" width="10.37" height="17.57" fill="#C82423"/>
<rect x="276.29" y="737.19" width="10.37" height="73.11" fill="#2878B5"/>
<rect x="287.66" y="707.29" width="10.37" height="103.01" fill="#C82423"/>
<rect x="301.21" y="634.19" width="10.37" height="176.11" fill="#2878B5"/>
<rect x="312.58" y="751.88" width="10.37" height="58.42" fill="#C82423"/>
<rect x="326.13" y="686.84" width="10.37" height="123.46" fill="#2878B5"/>
<rect x="337.5" y="717.26" width="10.37" height="93.04" fill="#C82423"/>
<rect x="351.05" y="758.04" width="10.37" height="52.26" fill="#2878B5"/>
<rect x="362.42" y="774.04" width="10.37" height="36.26" fill="#C82423"/>
<rect x="375.97" y="700.61" width="10.37" height="109.69" fill="#2878B5"/>
<rect x="387.34" y="760.14" width="10.37" height="50.16" fill="#C82423"/>
<line x1="25.5" y1="613.6" x2="25.5" y2="810.3" stroke="#7d7d7d" stroke-width="1.4"/>
<line x1="21.5" y1="810.3" x2="25.5" y2="810.3" stroke="#222" stroke-width="1"/>
<line x1="21.5" y1="770.96" x2="25.5" y2="770.96" stroke="#222" stroke-width="1"/>
<line x1="21.5" y1="731.62" x2="25.5" y2="731.62" stroke="#222" stroke-width="1"/>
<line x1="21.5" y1="692.28" x2="25.5" y2="692.28" stroke="#222" stroke-width="1"/>
<line x1="21.5" y1="652.94" x2="25.5" y2="652.94" stroke="#222" stroke-width="1"/>
<line x1="21.5" y1="613.6" x2="25.5" y2="613.6" stroke="#222" stroke-width="1"/>
<line x1="21.5" y1="810.3" x2="399.3" y2="810.3" stroke="#444" stroke-width="1.2"/>
<text x="12" y="814.2" class="yl">0</text>
<text x="12" y="774.86" class="yl">6</text>
<text x="12" y="735.52" class="yl">12</text>
<text x="12" y="696.18" class="yl">18</text>
<text x="12" y="656.84" class="yl">24</text>
<text x="12" y="617.5" class="yl">30</text>
<text class="xl" transform="translate(35.06 818.9) rotate(-45)">AUD/USD (D)</text>
<text class="xl" transform="translate(59.98 818.9) rotate(-45)">EUR/USD (D)</text>
<text class="xl" transform="translate(84.9 818.9) rotate(-45)">GBP/USD (D)</text>
<text class="xl" transform="translate(109.82 818.9) rotate(-45)">USD/CAD (D)</text>
<text class="xl" transform="translate(134.74 818.9) rotate(-45)">USD/JPY (D)</text>
<text class="xl" transform="translate(159.66 818.9) rotate(-45)">AUD/USD (W)</text>
<text class="xl" transform="translate(184.58 818.9) rotate(-45)">EUR/USD (W)</text>
<text class="xl" transform="translate(209.5 818.9) rotate(-45)">GBP/USD (W)</text>
<text class="xl" transform="translate(234.42 818.9) rotate(-45)">USD/CAD (W)</text>
<text class="xl" transform="translate(259.34 818.9) rotate(-45)">USD/JPY (W)</text>
<text class="xl" transform="translate(284.26 818.9) rotate(-45)">AUD/USD (M)</text>
<text class="xl" transform="translate(309.18 818.9) rotate(-45)">EUR/USD (M)</text>
<text class="xl" transform="translate(334.1 818.9) rotate(-45)">GBP/USD (M)</text>
<text class="xl" transform="translate(359.02 818.9) rotate(-45)">USD/CAD (M)</text>
<text class="xl" transform="translate(383.94 818.9) rotate(-45)">USD/JPY (M)</text>
<circle cx="132.5" cy="595.3" r="6.5" fill="#2878B5"/>
<text x="147.6" y="598.6" class="lg">Original data</text>
<circle cx="213.5" cy="595.3" r="6.5" fill="#C82423"/>
<text x="228.9" y="598.6" class="lg">Denoised data</text>
<text class="cap" transform="translate(204.3 875.7) scale(0.91 1)">(g) LSTM (MAPE)</text>
<line x1="425.9" y1="770.96" x2="798.7" y2="770.96" stroke="#e3e3e3" stroke-width="1"/>
<line x1="425.9" y1="731.62" x2="798.7" y2="731.62" stroke="#e3e3e3" stroke-width="1"/>
<line x1="425.9" y1="692.28" x2="798.7" y2="692.28" stroke="#e3e3e3" stroke-width="1"/>
<line x1="425.9" y1="652.94" x2="798.7" y2="652.94" stroke="#e3e3e3" stroke-width="1"/>
<line x1="425.9" y1="613.6" x2="798.7" y2="613.6" stroke="#e3e3e3" stroke-width="1"/>
<rect x="427.49" y="719.62" width="10.34" height="90.68" fill="#D95319"/>
<rect x="438.82" y="703.1" width="10.34" height="107.2" fill="#69C47E"/>
<rect x="452.34" y="714.31" width="10.34" height="95.99" fill="#D95319"/>
<rect x="463.68" y="702.51" width="10.34" height="107.79" fill="#69C47E"/>
<rect x="477.2" y="707.23" width="10.34" height="103.07" fill="#D95319"/>
<rect x="488.53" y="702.31" width="10.34" height="107.99" fill="#69C47E"/>
<rect x="502.05" y="717.85" width="10.34" height="92.45" fill="#D95319"/>
<rect x="513.38" y="702.51" width="10.34" height="107.79" fill="#69C47E"/>
<rect x="526.9" y="715.1" width="10.34" height="95.2" fill="#D95319"/>
<rect x="538.24" y="702.31" width="10.34" height="107.99" fill="#69C47E"/>
<rect x="551.76" y="706.64" width="10.34" height="103.66" fill="#D95319"/>
<rect x="563.09" y="703.1" width="10.34" height="107.2" fill="#69C47E"/>
<rect x="576.61" y="722.57" width="10.34" height="87.73" fill="#D95319"/>
<rect x="587.94" y="706.44" width="10.34" height="103.86" fill="#69C47E"/>
<rect x="601.46" y="715.1" width="10.34" height="95.2" fill="#D95319"/>
<rect x="612.8" y="705.85" width="10.34" height="104.45" fill="#69C47E"/>
<rect x="626.32" y="714.11" width="10.34" height="96.19" fill="#D95319"/>
<rect x="637.65" y="696.41" width="10.34" height="113.89" fill="#69C47E"/>
<rect x="651.17" y="724.15" width="10.34" height="86.15" fill="#D95319"/>
<rect x="662.5" y="697.39" width="10.34" height="112.91" fill="#69C47E"/>
<rect x="676.02" y="715.29" width="10.34" height="95.01" fill="#D95319"/>
<rect x="687.36" y="692.08" width="10.34" height="118.22" fill="#69C47E"/>
<rect x="700.88" y="701.52" width="10.34" height="108.78" fill="#D95319"/>
<rect x="712.21" y="689.13" width="10.34" height="121.17" fill="#69C47E"/>
<rect x="725.73" y="711.75" width="10.34" height="98.55" fill="#D95319"/>
<rect x="737.06" y="694.25" width="10.34" height="116.05" fill="#69C47E"/>
<rect x="750.58" y="718.24" width="10.34" height="92.06" fill="#D95319"/>
<rect x="761.92" y="678.9" width="10.34" height="131.4" fill="#69C47E"/>
<rect x="775.44" y="715.29" width="10.34" height="95.01" fill="#D95319"/>
<rect x="786.77" y="706.64" width="10.34" height="103.66" fill="#69C47E"/>
<line x1="425.9" y1="613.6" x2="425.9" y2="810.3" stroke="#7d7d7d" stroke-width="1.4"/>
<line x1="421.9" y1="810.3" x2="425.9" y2="810.3" stroke="#222" stroke-width="1"/>
<line x1="421.9" y1="770.96" x2="425.9" y2="770.96" stroke="#222" stroke-width="1"/>
<line x1="421.9" y1="731.62" x2="425.9" y2="731.62" stroke="#222" stroke-width="1"/>
<line x1="421.9" y1="692.28" x2="425.9" y2="692.28" stroke="#222" stroke-width="1"/>
<line x1="421.9" y1="652.94" x2="425.9" y2="652.94" stroke="#222" stroke-width="1"/>
<line x1="421.9" y1="613.6" x2="425.9" y2="613.6" stroke="#222" stroke-width="1"/>
<line x1="421.9" y1="810.3" x2="798.7" y2="810.3" stroke="#444" stroke-width="1.2"/>
<text x="412.4" y="814.2" class="yl">0</text>
<text x="412.4" y="774.86" class="yl">0.2</text>
<text x="412.4" y="735.52" class="yl">0.4</text>
<text x="412.4" y="696.18" class="yl">0.6</text>
<text x="412.4" y="656.84" class="yl">0.8</text>
<text x="412.4" y="617.5" class="yl">1</text>
<text class="xl" transform="translate(435.43 818.9) rotate(-45)">AUD/USD (D)</text>
<text class="xl" transform="translate(460.28 818.9) rotate(-45)">EUR/USD (D)</text>
<text class="xl" transform="translate(485.13 818.9) rotate(-45)">GBP/USD (D)</text>
<text class="xl" transform="translate(509.99 818.9) rotate(-45)">USD/CAD (D)</text>
<text class="xl" transform="translate(534.84 818.9) rotate(-45)">USD/JPY (D)</text>
<text class="xl" transform="translate(559.69 818.9) rotate(-45)">AUD/USD (W)</text>
<text class="xl" transform="translate(584.55 818.9) rotate(-45)">EUR/USD (W)</text>
<text class="xl" transform="translate(609.4 818.9) rotate(-45)">GBP/USD (W)</text>
<text class="xl" transform="translate(634.25 818.9) rotate(-45)">USD/CAD (W)</text>
<text class="xl" transform="translate(659.11 818.9) rotate(-45)">USD/JPY (W)</text>
<text class="xl" transform="translate(683.96 818.9) rotate(-45)">AUD/USD (M)</text>
<text class="xl" transform="translate(708.81 818.9) rotate(-45)">EUR/USD (M)</text>
<text class="xl" transform="translate(733.67 818.9) rotate(-45)">GBP/USD (M)</text>
<text class="xl" transform="translate(758.52 818.9) rotate(-45)">USD/CAD (M)</text>
<text class="xl" transform="translate(783.37 818.9) rotate(-45)">USD/JPY (M)</text>
<circle cx="531.2" cy="595.3" r="6.5" fill="#D95319"/>
<text x="546.3" y="598.6" class="lg">Original data</text>
<circle cx="612.2" cy="595.3" r="6.5" fill="#69C47E"/>
<text x="627.6" y="598.6" class="lg">Denoised data</text>
<text class="cap" transform="translate(602.9 875.7) scale(0.91 1)">(h) ARIMA (DA)</text>
<line x1="826.6" y1="770.96" x2="1199.5" y2="770.96" stroke="#e3e3e3" stroke-width="1"/>
<line x1="826.6" y1="731.62" x2="1199.5" y2="731.62" stroke="#e3e3e3" stroke-width="1"/>
<line x1="826.6" y1="692.28" x2="1199.5" y2="692.28" stroke="#e3e3e3" stroke-width="1"/>
<line x1="826.6" y1="652.94" x2="1199.5" y2="652.94" stroke="#e3e3e3" stroke-width="1"/>
<line x1="826.6" y1="613.6" x2="1199.5" y2="613.6" stroke="#e3e3e3" stroke-width="1"/>
<rect x="828.19" y="714.11" width="10.34" height="96.19" fill="#D95319"/>
<rect x="839.53" y="713.72" width="10.34" height="96.58" fill="#69C47E"/>
<rect x="853.05" y="712.34" width="10.34" height="97.96" fill="#D95319"/>
<rect x="864.39" y="712.15" width="10.34" height="98.15" fill="#69C47E"/>
<rect x="877.91" y="712.54" width="10.34" height="97.76" fill="#D95319"/>
<rect x="889.25" y="712.54" width="10.34" height="97.76" fill="#69C47E"/>
<rect x="902.77" y="713.72" width="10.34" height="96.58" fill="#D95319"/>
<rect x="914.11" y="713.72" width="10.34" height="96.58" fill="#69C47E"/>
<rect x="927.63" y="713.72" width="10.34" height="96.58" fill="#D95319"/>
<rect x="938.97" y="713.13" width="10.34" height="97.17" fill="#69C47E"/>
<rect x="952.49" y="714.31" width="10.34" height="95.99" fill="#D95319"/>
<rect x="963.83" y="713.13" width="10.34" height="97.17" fill="#69C47E"/>
<rect x="977.35" y="716.08" width="10.34" height="94.22" fill="#D95319"/>
<rect x="988.69" y="716.08" width="10.34" height="94.22" fill="#69C47E"/>
<rect x="1002.21" y="705.85" width="10.34" height="104.45" fill="#D95319"/>
<rect x="1013.55" y="706.25" width="10.34" height="104.05" fill="#69C47E"/>
<rect x="1027.07" y="715.88" width="10.34" height="94.42" fill="#D95319"/>
<rect x="1038.41" y="716.08" width="10.34" height="94.22" fill="#69C47E"/>
<rect x="1051.93" y="708.02" width="10.34" height="102.28" fill="#D95319"/>
<rect x="1063.27" y="708.02" width="10.34" height="102.28" fill="#69C47E"/>
<rect x="1076.79" y="715.1" width="10.34" height="95.2" fill="#D95319"/>
<rect x="1088.13" y="715.1" width="10.34" height="95.2" fill="#69C47E"/>
<rect x="1101.65" y="703.1" width="10.34" height="107.2" fill="#D95319"/>
<rect x="1112.99" y="719.82" width="10.34" height="90.48" fill="#69C47E"/>
<rect x="1126.51" y="712.74" width="10.34" height="97.56" fill="#D95319"/>
<rect x="1137.85" y="717.26" width="10.34" height="93.04" fill="#69C47E"/>
<rect x="1151.37" y="722.38" width="10.34" height="87.92" fill="#D95319"/>
<rect x="1162.71" y="723.95" width="10.34" height="86.35" fill="#69C47E"/>
<rect x="1176.23" y="705.85" width="10.34" height="104.45" fill="#D95319"/>
<rect x="1187.57" y="705.85" width="10.34" height="104.45" fill="#69C47E"/>
<line x1="826.6" y1="613.6" x2="826.6" y2="810.3" stroke="#7d7d7d" stroke-width="1.4"/>
<line x1="822.6" y1="810.3" x2="826.6" y2="810.3" stroke="#222" stroke-width="1"/>
<line x1="822.6" y1="770.96" x2="826.6" y2="770.96" stroke="#222" stroke-width="1"/>
<line x1="822.6" y1="731.62" x2="826.6" y2="731.62" stroke="#222" stroke-width="1"/>
<line x1="822.6" y1="692.28" x2="826.6" y2="692.28" stroke="#222" stroke-width="1"/>
<line x1="822.6" y1="652.94" x2="826.6" y2="652.94" stroke="#222" stroke-width="1"/>
<line x1="822.6" y1="613.6" x2="826.6" y2="613.6" stroke="#222" stroke-width="1"/>
<line x1="822.6" y1="810.3" x2="1199.5" y2="810.3" stroke="#444" stroke-width="1.2"/>
<text x="813.1" y="814.2" class="yl">0</text>
<text x="813.1" y="774.86" class="yl">0.2</text>
<text x="813.1" y="735.52" class="yl">0.4</text>
<text x="813.1" y="696.18" class="yl">0.6</text>
<text x="813.1" y="656.84" class="yl">0.8</text>
<text x="813.1" y="617.5" class="yl">1</text>
<text class="xl" transform="translate(836.13 818.9) rotate(-45)">AUD/USD (D)</text>
<text class="xl" transform="translate(860.99 818.9) rotate(-45)">EUR/USD (D)</text>
<text class="xl" transform="translate(885.85 818.9) rotate(-45)">GBP/USD (D)</text>
<text class="xl" transform="translate(910.71 818.9) rotate(-45)">USD/CAD (D)</text>
<text class="xl" transform="translate(935.57 818.9) rotate(-45)">USD/JPY (D)</text>
<text class="xl" transform="translate(960.43 818.9) rotate(-45)">AUD/USD (W)</text>
<text class="xl" transform="translate(985.29 818.9) rotate(-45)">EUR/USD (W)</text>
<text class="xl" transform="translate(1010.15 818.9) rotate(-45)">GBP/USD (W)</text>
<text class="xl" transform="translate(1035.01 818.9) rotate(-45)">USD/CAD (W)</text>
<text class="xl" transform="translate(1059.87 818.9) rotate(-45)">USD/JPY (W)</text>
<text class="xl" transform="translate(1084.73 818.9) rotate(-45)">AUD/USD (M)</text>
<text class="xl" transform="translate(1109.59 818.9) rotate(-45)">EUR/USD (M)</text>
<text class="xl" transform="translate(1134.45 818.9) rotate(-45)">GBP/USD (M)</text>
<text class="xl" transform="translate(1159.31 818.9) rotate(-45)">USD/CAD (M)</text>
<text class="xl" transform="translate(1184.17 818.9) rotate(-45)">USD/JPY (M)</text>
<circle cx="931.7" cy="595.3" r="6.5" fill="#D95319"/>
<text x="946.8" y="598.6" class="lg">Original data</text>
<circle cx="1012.7" cy="595.3" r="6.5" fill="#69C47E"/>
<text x="1028.1" y="598.6" class="lg">Denoised data</text>
<text class="cap" transform="translate(984.8 875.3) scale(0.91 1)">(i) Volterra (DA)</text>
<line x1="27.1" y1="1062.86" x2="399.3" y2="1062.86" stroke="#e3e3e3" stroke-width="1"/>
<line x1="27.1" y1="1023.52" x2="399.3" y2="1023.52" stroke="#e3e3e3" stroke-width="1"/>
<line x1="27.1" y1="984.18" x2="399.3" y2="984.18" stroke="#e3e3e3" stroke-width="1"/>
<line x1="27.1" y1="944.84" x2="399.3" y2="944.84" stroke="#e3e3e3" stroke-width="1"/>
<line x1="27.1" y1="905.5" x2="399.3" y2="905.5" stroke="#e3e3e3" stroke-width="1"/>
<rect x="28.69" y="1007.39" width="10.32" height="94.81" fill="#D95319"/>
<rect x="40" y="1006.01" width="10.32" height="96.19" fill="#69C47E"/>
<rect x="53.5" y="1006.41" width="10.32" height="95.79" fill="#D95319"/>
<rect x="64.82" y="1002.67" width="10.32" height="99.53" fill="#69C47E"/>
<rect x="78.31" y="1002.08" width="10.32" height="100.12" fill="#D95319"/>
<rect x="89.63" y="1003.06" width="10.32" height="99.14" fill="#69C47E"/>
<rect x="103.13" y="1009.36" width="10.32" height="92.84" fill="#D95319"/>
<rect x="114.44" y="1007.19" width="10.32" height="95.01" fill="#69C47E"/>
<rect x="127.94" y="1007.19" width="10.32" height="95.01" fill="#D95319"/>
<rect x="139.26" y="999.33" width="10.32" height="102.87" fill="#69C47E"/>
<rect x="152.75" y="1000.9" width="10.32" height="101.3" fill="#D95319"/>
<rect x="164.07" y="1009.95" width="10.32" height="92.25" fill="#69C47E"/>
<rect x="177.57" y="1013.09" width="10.32" height="89.11" fill="#D95319"/>
<rect x="188.88" y="1004.05" width="10.32" height="98.15" fill="#69C47E"/>
<rect x="202.38" y="1007.78" width="10.32" height="94.42" fill="#D95319"/>
<rect x="213.7" y="1002.08" width="10.32" height="100.12" fill="#69C47E"/>
<rect x="227.19" y="1008.37" width="10.32" height="93.83" fill="#D95319"/>
<rect x="238.51" y="1017.23" width="10.32" height="84.97" fill="#69C47E"/>
<rect x="252.01" y="1009.16" width="10.32" height="93.04" fill="#D95319"/>
<rect x="263.32" y="1004.24" width="10.32" height="97.96" fill="#69C47E"/>
<rect x="276.82" y="1005.03" width="10.32" height="97.17" fill="#D95319"/>
<rect x="288.14" y="1014.08" width="10.32" height="88.12" fill="#69C47E"/>
<rect x="301.63" y="1010.14" width="10.32" height="92.06" fill="#D95319"/>
<rect x="312.95" y="993.62" width="10.32" height="108.58" fill="#69C47E"/>
<rect x="326.45" y="1012.11" width="10.32" height="90.09" fill="#D95319"/>
<rect x="337.76" y="1007.19" width="10.32" height="95.01" fill="#69C47E"/>
<rect x="351.26" y="998.34" width="10.32" height="103.86" fill="#D95319"/>
<rect x="362.58" y="1003.46" width="10.32" height="98.74" fill="#69C47E"/>
<rect x="376.07" y="1013.88" width="10.32" height="88.32" fill="#D95319"/>
<rect x="387.39" y="996.97" width="10.32" height="105.23" fill="#69C47E"/>
<line x1="27.1" y1="905.5" x2="27.1" y2="1102.2" stroke="#7d7d7d" stroke-width="1.4"/>
<line x1="23.1" y1="1102.2" x2="27.1" y2="1102.2" stroke="#222" stroke-width="1"/>
<line x1="23.1" y1="1062.86" x2="27.1" y2="1062.86" stroke="#222" stroke-width="1"/>
<line x1="23.1" y1="1023.52" x2="27.1" y2="1023.52" stroke="#222" stroke-width="1"/>
<line x1="23.1" y1="984.18" x2="27.1" y2="984.18" stroke="#222" stroke-width="1"/>
<line x1="23.1" y1="944.84" x2="27.1" y2="944.84" stroke="#222" stroke-width="1"/>
<line x1="23.1" y1="905.5" x2="27.1" y2="905.5" stroke="#222" stroke-width="1"/>
<line x1="23.1" y1="1102.2" x2="399.3" y2="1102.2" stroke="#444" stroke-width="1.2"/>
<text x="13.6" y="1106.1" class="yl">0</text>
<text x="13.6" y="1066.76" class="yl">0.2</text>
<text x="13.6" y="1027.42" class="yl">0.4</text>
<text x="13.6" y="988.08" class="yl">0.6</text>
<text x="13.6" y="948.74" class="yl">0.8</text>
<text x="13.6" y="909.4" class="yl">1</text>
<text class="xl" transform="translate(36.61 1110.8) rotate(-45)">AUD/USD (D)</text>
<text class="xl" transform="translate(61.42 1110.8) rotate(-45)">EUR/USD (D)</text>
<text class="xl" transform="translate(86.23 1110.8) rotate(-45)">GBP/USD (D)</text>
<text class="xl" transform="translate(111.05 1110.8) rotate(-45)">USD/CAD (D)</text>
<text class="xl" transform="translate(135.86 1110.8) rotate(-45)">USD/JPY (D)</text>
<text class="xl" transform="translate(160.67 1110.8) rotate(-45)">AUD/USD (W)</text>
<text class="xl" transform="translate(185.49 1110.8) rotate(-45)">EUR/USD (W)</text>
<text class="xl" transform="translate(210.3 1110.8) rotate(-45)">GBP/USD (W)</text>
<text class="xl" transform="translate(235.11 1110.8) rotate(-45)">USD/CAD (W)</text>
<text class="xl" transform="translate(259.93 1110.8) rotate(-45)">USD/JPY (W)</text>
<text class="xl" transform="translate(284.74 1110.8) rotate(-45)">AUD/USD (M)</text>
<text class="xl" transform="translate(309.55 1110.8) rotate(-45)">EUR/USD (M)</text>
<text class="xl" transform="translate(334.37 1110.8) rotate(-45)">GBP/USD (M)</text>
<text class="xl" transform="translate(359.18 1110.8) rotate(-45)">USD/CAD (M)</text>
<text class="xl" transform="translate(383.99 1110.8) rotate(-45)">USD/JPY (M)</text>
<circle cx="132.5" cy="887.1" r="6.5" fill="#D95319"/>
<text x="147.6" y="890.4" class="lg">Original data</text>
<circle cx="213.5" cy="887.1" r="6.5" fill="#69C47E"/>
<text x="228.9" y="890.4" class="lg">Denoised data</text>
<text class="cap" transform="translate(204.1 1167.3) scale(0.91 1)">(j) BPNN (DA)</text>
<line x1="424.1" y1="1062.86" x2="797.5" y2="1062.86" stroke="#e3e3e3" stroke-width="1"/>
<line x1="424.1" y1="1023.52" x2="797.5" y2="1023.52" stroke="#e3e3e3" stroke-width="1"/>
<line x1="424.1" y1="984.18" x2="797.5" y2="984.18" stroke="#e3e3e3" stroke-width="1"/>
<line x1="424.1" y1="944.84" x2="797.5" y2="944.84" stroke="#e3e3e3" stroke-width="1"/>
<line x1="424.1" y1="905.5" x2="797.5" y2="905.5" stroke="#e3e3e3" stroke-width="1"/>
<rect x="425.69" y="1004.05" width="10.36" height="98.15" fill="#D95319"/>
<rect x="437.04" y="999.33" width="10.36" height="102.87" fill="#69C47E"/>
<rect x="450.59" y="1003.46" width="10.36" height="98.74" fill="#D95319"/>
<rect x="461.94" y="995.98" width="10.36" height="106.22" fill="#69C47E"/>
<rect x="475.48" y="1004.05" width="10.36" height="98.15" fill="#D95319"/>
<rect x="486.83" y="1000.7" width="10.36" height="101.5" fill="#69C47E"/>
<rect x="500.37" y="1002.67" width="10.36" height="99.53" fill="#D95319"/>
<rect x="511.72" y="997.36" width="10.36" height="104.84" fill="#69C47E"/>
<rect x="525.27" y="1003.06" width="10.36" height="99.14" fill="#D95319"/>
<rect x="536.62" y="996.97" width="10.36" height="105.23" fill="#69C47E"/>
<rect x="550.16" y="1003.46" width="10.36" height="98.74" fill="#D95319"/>
<rect x="561.51" y="995.39" width="10.36" height="106.81" fill="#69C47E"/>
<rect x="575.05" y="997.36" width="10.36" height="104.84" fill="#D95319"/>
<rect x="586.4" y="1000.11" width="10.36" height="102.09" fill="#69C47E"/>
<rect x="599.95" y="1001.1" width="10.36" height="101.1" fill="#D95319"/>
<rect x="611.3" y="996.18" width="10.36" height="106.02" fill="#69C47E"/>
<rect x="624.84" y="1004.83" width="10.36" height="97.37" fill="#D95319"/>
<rect x="636.19" y="996.18" width="10.36" height="106.02" fill="#69C47E"/>
<rect x="649.73" y="1012.11" width="10.36" height="90.09" fill="#D95319"/>
<rect x="661.08" y="992.64" width="10.36" height="109.56" fill="#69C47E"/>
<rect x="674.63" y="1005.03" width="10.36" height="97.17" fill="#D95319"/>
<rect x="685.98" y="987.13" width="10.36" height="115.07" fill="#69C47E"/>
<rect x="699.52" y="988.7" width="10.36" height="113.5" fill="#D95319"/>
<rect x="710.87" y="998.54" width="10.36" height="103.66" fill="#69C47E"/>
<rect x="724.41" y="1008.77" width="10.36" height="93.43" fill="#D95319"/>
<rect x="735.76" y="998.54" width="10.36" height="103.66" fill="#69C47E"/>
<rect x="749.31" y="990.47" width="10.36" height="111.73" fill="#D95319"/>
<rect x="760.66" y="972.18" width="10.36" height="130.02" fill="#69C47E"/>
<rect x="774.2" y="1007.19" width="10.36" height="95.01" fill="#D95319"/>
<rect x="785.55" y="1005.03" width="10.36" height="97.17" fill="#69C47E"/>
<line x1="424.1" y1="905.5" x2="424.1" y2="1102.2" stroke="#7d7d7d" stroke-width="1.4"/>
<line x1="420.1" y1="1102.2" x2="424.1" y2="1102.2" stroke="#222" stroke-width="1"/>
<line x1="420.1" y1="1062.86" x2="424.1" y2="1062.86" stroke="#222" stroke-width="1"/>
<line x1="420.1" y1="1023.52" x2="424.1" y2="1023.52" stroke="#222" stroke-width="1"/>
<line x1="420.1" y1="984.18" x2="424.1" y2="984.18" stroke="#222" stroke-width="1"/>
<line x1="420.1" y1="944.84" x2="424.1" y2="944.84" stroke="#222" stroke-width="1"/>
<line x1="420.1" y1="905.5" x2="424.1" y2="905.5" stroke="#222" stroke-width="1"/>
<line x1="420.1" y1="1102.2" x2="797.5" y2="1102.2" stroke="#444" stroke-width="1.2"/>
<text x="410.6" y="1106.1" class="yl">0</text>
<text x="410.6" y="1066.76" class="yl">0.2</text>
<text x="410.6" y="1027.42" class="yl">0.4</text>
<text x="410.6" y="988.08" class="yl">0.6</text>
<text x="410.6" y="948.74" class="yl">0.8</text>
<text x="410.6" y="909.4" class="yl">1</text>
<text class="xl" transform="translate(433.65 1110.8) rotate(-45)">AUD/USD (D)</text>
<text class="xl" transform="translate(458.54 1110.8) rotate(-45)">EUR/USD (D)</text>
<text class="xl" transform="translate(483.43 1110.8) rotate(-45)">GBP/USD (D)</text>
<text class="xl" transform="translate(508.33 1110.8) rotate(-45)">USD/CAD (D)</text>
<text class="xl" transform="translate(533.22 1110.8) rotate(-45)">USD/JPY (D)</text>
<text class="xl" transform="translate(558.11 1110.8) rotate(-45)">AUD/USD (W)</text>
<text class="xl" transform="translate(583.01 1110.8) rotate(-45)">EUR/USD (W)</text>
<text class="xl" transform="translate(607.9 1110.8) rotate(-45)">GBP/USD (W)</text>
<text class="xl" transform="translate(632.79 1110.8) rotate(-45)">USD/CAD (W)</text>
<text class="xl" transform="translate(657.69 1110.8) rotate(-45)">USD/JPY (W)</text>
<text class="xl" transform="translate(682.58 1110.8) rotate(-45)">AUD/USD (M)</text>
<text class="xl" transform="translate(707.47 1110.8) rotate(-45)">EUR/USD (M)</text>
<text class="xl" transform="translate(732.37 1110.8) rotate(-45)">GBP/USD (M)</text>
<text class="xl" transform="translate(757.26 1110.8) rotate(-45)">USD/CAD (M)</text>
<text class="xl" transform="translate(782.15 1110.8) rotate(-45)">USD/JPY (M)</text>
<circle cx="529.4" cy="887.1" r="6.5" fill="#D95319"/>
<text x="544.5" y="890.4" class="lg">Original data</text>
<circle cx="610.4" cy="887.1" r="6.5" fill="#69C47E"/>
<text x="625.8" y="890.4" class="lg">Denoised data</text>
<text class="cap" transform="translate(601.5 1167.3) scale(0.91 1)">(k) ELM (DA)</text>
<line x1="826.6" y1="1062.86" x2="1199.5" y2="1062.86" stroke="#e3e3e3" stroke-width="1"/>
<line x1="826.6" y1="1023.52" x2="1199.5" y2="1023.52" stroke="#e3e3e3" stroke-width="1"/>
<line x1="826.6" y1="984.18" x2="1199.5" y2="984.18" stroke="#e3e3e3" stroke-width="1"/>
<line x1="826.6" y1="944.84" x2="1199.5" y2="944.84" stroke="#e3e3e3" stroke-width="1"/>
<line x1="826.6" y1="905.5" x2="1199.5" y2="905.5" stroke="#e3e3e3" stroke-width="1"/>
<rect x="828.19" y="1004.05" width="10.34" height="98.15" fill="#D95319"/>
<rect x="839.53" y="1002.87" width="10.34" height="99.33" fill="#69C47E"/>
<rect x="853.05" y="1004.05" width="10.34" height="98.15" fill="#D95319"/>
<rect x="864.39" y="1002.87" width="10.34" height="99.33" fill="#69C47E"/>
<rect x="877.91" y="1006.21" width="10.34" height="95.99" fill="#D95319"/>
<rect x="889.25" y="1002.28" width="10.34" height="99.92" fill="#69C47E"/>
<rect x="902.77" y="1002.87" width="10.34" height="99.33" fill="#D95319"/>
<rect x="914.11" y="1004.44" width="10.34" height="97.76" fill="#69C47E"/>
<rect x="927.63" y="1004.24" width="10.34" height="97.96" fill="#D95319"/>
<rect x="938.97" y="1001.1" width="10.34" height="101.1" fill="#69C47E"/>
<rect x="952.49" y="1002.28" width="10.34" height="99.92" fill="#D95319"/>
<rect x="963.83" y="999.13" width="10.34" height="103.07" fill="#69C47E"/>
<rect x="977.35" y="1002.87" width="10.34" height="99.33" fill="#D95319"/>
<rect x="988.69" y="1000.11" width="10.34" height="102.09" fill="#69C47E"/>
<rect x="1002.21" y="1004.44" width="10.34" height="97.76" fill="#D95319"/>
<rect x="1013.55" y="1003.85" width="10.34" height="98.35" fill="#69C47E"/>
<rect x="1027.07" y="1002.47" width="10.34" height="99.73" fill="#D95319"/>
<rect x="1038.41" y="1002.87" width="10.34" height="99.33" fill="#69C47E"/>
<rect x="1051.93" y="996.18" width="10.34" height="106.02" fill="#D95319"/>
<rect x="1063.27" y="997.16" width="10.34" height="105.04" fill="#69C47E"/>
<rect x="1076.79" y="1005.23" width="10.34" height="96.97" fill="#D95319"/>
<rect x="1088.13" y="980.84" width="10.34" height="121.36" fill="#69C47E"/>
<rect x="1101.65" y="981.82" width="10.34" height="120.38" fill="#D95319"/>
<rect x="1112.99" y="1007.19" width="10.34" height="95.01" fill="#69C47E"/>
<rect x="1126.51" y="988.7" width="10.34" height="113.5" fill="#D95319"/>
<rect x="1137.85" y="998.34" width="10.34" height="103.86" fill="#69C47E"/>
<rect x="1151.37" y="1013.88" width="10.34" height="88.32" fill="#D95319"/>
<rect x="1162.71" y="992.05" width="10.34" height="110.15" fill="#69C47E"/>
<rect x="1176.23" y="1013.88" width="10.34" height="88.32" fill="#D95319"/>
<rect x="1187.57" y="993.82" width="10.34" height="108.38" fill="#69C47E"/>
<line x1="826.6" y1="905.5" x2="826.6" y2="1102.2" stroke="#7d7d7d" stroke-width="1.4"/>
<line x1="822.6" y1="1102.2" x2="826.6" y2="1102.2" stroke="#222" stroke-width="1"/>
<line x1="822.6" y1="1062.86" x2="826.6" y2="1062.86" stroke="#222" stroke-width="1"/>
<line x1="822.6" y1="1023.52" x2="826.6" y2="1023.52" stroke="#222" stroke-width="1"/>
<line x1="822.6" y1="984.18" x2="826.6" y2="984.18" stroke="#222" stroke-width="1"/>
<line x1="822.6" y1="944.84" x2="826.6" y2="944.84" stroke="#222" stroke-width="1"/>
<line x1="822.6" y1="905.5" x2="826.6" y2="905.5" stroke="#222" stroke-width="1"/>
<line x1="822.6" y1="1102.2" x2="1199.5" y2="1102.2" stroke="#444" stroke-width="1.2"/>
<text x="813.1" y="1106.1" class="yl">0</text>
<text x="813.1" y="1066.76" class="yl">0.2</text>
<text x="813.1" y="1027.42" class="yl">0.4</text>
<text x="813.1" y="988.08" class="yl">0.6</text>
<text x="813.1" y="948.74" class="yl">0.8</text>
<text x="813.1" y="909.4" class="yl">1</text>
<text class="xl" transform="translate(836.13 1110.8) rotate(-45)">AUD/USD (D)</text>
<text class="xl" transform="translate(860.99 1110.8) rotate(-45)">EUR/USD (D)</text>
<text class="xl" transform="translate(885.85 1110.8) rotate(-45)">GBP/USD (D)</text>
<text class="xl" transform="translate(910.71 1110.8) rotate(-45)">USD/CAD (D)</text>
<text class="xl" transform="translate(935.57 1110.8) rotate(-45)">USD/JPY (D)</text>
<text class="xl" transform="translate(960.43 1110.8) rotate(-45)">AUD/USD (W)</text>
<text class="xl" transform="translate(985.29 1110.8) rotate(-45)">EUR/USD (W)</text>
<text class="xl" transform="translate(1010.15 1110.8) rotate(-45)">GBP/USD (W)</text>
<text class="xl" transform="translate(1035.01 1110.8) rotate(-45)">USD/CAD (W)</text>
<text class="xl" transform="translate(1059.87 1110.8) rotate(-45)">USD/JPY (W)</text>
<text class="xl" transform="translate(1084.73 1110.8) rotate(-45)">AUD/USD (M)</text>
<text class="xl" transform="translate(1109.59 1110.8) rotate(-45)">EUR/USD (M)</text>
<text class="xl" transform="translate(1134.45 1110.8) rotate(-45)">GBP/USD (M)</text>
<text class="xl" transform="translate(1159.31 1110.8) rotate(-45)">USD/CAD (M)</text>
<text class="xl" transform="translate(1184.17 1110.8) rotate(-45)">USD/JPY (M)</text>
<circle cx="931.7" cy="887.1" r="6.5" fill="#D95319"/>
<text x="946.8" y="890.4" class="lg">Original data</text>
<circle cx="1012.7" cy="887.1" r="6.5" fill="#69C47E"/>
<text x="1028.1" y="890.4" class="lg">Denoised data</text>
<text class="cap" transform="translate(984.6 1167.3) scale(0.91 1)">(l) ANFIS (DA)</text>
<line x1="27.2" y1="1355.22" x2="399.3" y2="1355.22" stroke="#e3e3e3" stroke-width="1"/>
<line x1="27.2" y1="1316.04" x2="399.3" y2="1316.04" stroke="#e3e3e3" stroke-width="1"/>
<line x1="27.2" y1="1276.86" x2="399.3" y2="1276.86" stroke="#e3e3e3" stroke-width="1"/>
<line x1="27.2" y1="1237.68" x2="399.3" y2="1237.68" stroke="#e3e3e3" stroke-width="1"/>
<line x1="27.2" y1="1198.5" x2="399.3" y2="1198.5" stroke="#e3e3e3" stroke-width="1"/>
<rect x="28.79" y="1300.37" width="10.32" height="94.03" fill="#D95319"/>
<rect x="40.1" y="1301.54" width="10.32" height="92.86" fill="#69C47E"/>
<rect x="53.59" y="1297.82" width="10.32" height="96.58" fill="#D95319"/>
<rect x="64.91" y="1302.13" width="10.32" height="92.27" fill="#69C47E"/>
<rect x="78.4" y="1297.04" width="10.32" height="97.36" fill="#D95319"/>
<rect x="89.71" y="1299" width="10.32" height="95.4" fill="#69C47E"/>
<rect x="103.21" y="1296.06" width="10.32" height="98.34" fill="#D95319"/>
<rect x="114.52" y="1302.33" width="10.32" height="92.07" fill="#69C47E"/>
<rect x="128.01" y="1299" width="10.32" height="95.4" fill="#D95319"/>
<rect x="139.33" y="1299" width="10.32" height="95.4" fill="#69C47E"/>
<rect x="152.82" y="1300.37" width="10.32" height="94.03" fill="#D95319"/>
<rect x="164.13" y="1293.9" width="10.32" height="100.5" fill="#69C47E"/>
<rect x="177.63" y="1295.27" width="10.32" height="99.13" fill="#D95319"/>
<rect x="188.94" y="1299" width="10.32" height="95.4" fill="#69C47E"/>
<rect x="202.43" y="1298.02" width="10.32" height="96.38" fill="#D95319"/>
<rect x="213.75" y="1297.43" width="10.32" height="96.97" fill="#69C47E"/>
<rect x="227.24" y="1295.47" width="10.32" height="98.93" fill="#D95319"/>
<rect x="238.55" y="1296.25" width="10.32" height="98.15" fill="#69C47E"/>
<rect x="252.05" y="1301.94" width="10.32" height="92.46" fill="#D95319"/>
<rect x="263.36" y="1300.37" width="10.32" height="94.03" fill="#69C47E"/>
<rect x="276.85" y="1294.3" width="10.32" height="100.1" fill="#D95319"/>
<rect x="288.17" y="1296.25" width="10.32" height="98.15" fill="#69C47E"/>
<rect x="301.66" y="1300.76" width="10.32" height="93.64" fill="#D95319"/>
<rect x="312.97" y="1291.16" width="10.32" height="103.24" fill="#69C47E"/>
<rect x="326.47" y="1294.88" width="10.32" height="99.52" fill="#D95319"/>
<rect x="337.78" y="1305.85" width="10.32" height="88.55" fill="#69C47E"/>
<rect x="351.27" y="1295.27" width="10.32" height="99.13" fill="#D95319"/>
<rect x="362.59" y="1299" width="10.32" height="95.4" fill="#69C47E"/>
<rect x="376.08" y="1298.6" width="10.32" height="95.8" fill="#D95319"/>
<rect x="387.39" y="1294.3" width="10.32" height="100.1" fill="#69C47E"/>
<line x1="27.2" y1="1198.5" x2="27.2" y2="1394.4" stroke="#7d7d7d" stroke-width="1.4"/>
<line x1="23.2" y1="1394.4" x2="27.2" y2="1394.4" stroke="#222" stroke-width="1"/>
<line x1="23.2" y1="1355.22" x2="27.2" y2="1355.22" stroke="#222" stroke-width="1"/>
<line x1="23.2" y1="1316.04" x2="27.2" y2="1316.04" stroke="#222" stroke-width="1"/>
<line x1="23.2" y1="1276.86" x2="27.2" y2="1276.86" stroke="#222" stroke-width="1"/>
<line x1="23.2" y1="1237.68" x2="27.2" y2="1237.68" stroke="#222" stroke-width="1"/>
<line x1="23.2" y1="1198.5" x2="27.2" y2="1198.5" stroke="#222" stroke-width="1"/>
<line x1="23.2" y1="1394.4" x2="399.3" y2="1394.4" stroke="#444" stroke-width="1.2"/>
<text x="13.7" y="1398.3" class="yl">0</text>
<text x="13.7" y="1359.12" class="yl">0.2</text>
<text x="13.7" y="1319.94" class="yl">0.4</text>
<text x="13.7" y="1280.76" class="yl">0.6</text>
<text x="13.7" y="1241.58" class="yl">0.8</text>
<text x="13.7" y="1202.4" class="yl">1</text>
<text class="xl" transform="translate(36.7 1403) rotate(-45)">AUD/USD (D)</text>
<text class="xl" transform="translate(61.51 1403) rotate(-45)">EUR/USD (D)</text>
<text class="xl" transform="translate(86.32 1403) rotate(-45)">GBP/USD (D)</text>
<text class="xl" transform="translate(111.12 1403) rotate(-45)">USD/CAD (D)</text>
<text class="xl" transform="translate(135.93 1403) rotate(-45)">USD/JPY (D)</text>
<text class="xl" transform="translate(160.74 1403) rotate(-45)">AUD/USD (W)</text>
<text class="xl" transform="translate(185.54 1403) rotate(-45)">EUR/USD (W)</text>
<text class="xl" transform="translate(210.35 1403) rotate(-45)">GBP/USD (W)</text>
<text class="xl" transform="translate(235.16 1403) rotate(-45)">USD/CAD (W)</text>
<text class="xl" transform="translate(259.96 1403) rotate(-45)">USD/JPY (W)</text>
<text class="xl" transform="translate(284.77 1403) rotate(-45)">AUD/USD (M)</text>
<text class="xl" transform="translate(309.58 1403) rotate(-45)">EUR/USD (M)</text>
<text class="xl" transform="translate(334.38 1403) rotate(-45)">GBP/USD (M)</text>
<text class="xl" transform="translate(359.19 1403) rotate(-45)">USD/CAD (M)</text>
<text class="xl" transform="translate(384 1403) rotate(-45)">USD/JPY (M)</text>
<circle cx="132.5" cy="1179.5" r="6.5" fill="#D95319"/>
<text x="147.6" y="1182.8" class="lg">Original data</text>
<circle cx="213.5" cy="1179.5" r="6.5" fill="#69C47E"/>
<text x="228.9" y="1182.8" class="lg">Denoised data</text>
<text class="cap" transform="translate(204 1469.9) scale(0.91 1)">(m) RW (DA)</text>
<line x1="427.1" y1="1355.22" x2="800.3" y2="1355.22" stroke="#e3e3e3" stroke-width="1"/>
<line x1="427.1" y1="1316.04" x2="800.3" y2="1316.04" stroke="#e3e3e3" stroke-width="1"/>
<line x1="427.1" y1="1276.86" x2="800.3" y2="1276.86" stroke="#e3e3e3" stroke-width="1"/>
<line x1="427.1" y1="1237.68" x2="800.3" y2="1237.68" stroke="#e3e3e3" stroke-width="1"/>
<line x1="427.1" y1="1198.5" x2="800.3" y2="1198.5" stroke="#e3e3e3" stroke-width="1"/>
<rect x="428.69" y="1292.34" width="10.35" height="102.06" fill="#D95319"/>
<rect x="440.04" y="1289.2" width="10.35" height="105.2" fill="#69C47E"/>
<rect x="453.57" y="1294.1" width="10.35" height="100.3" fill="#D95319"/>
<rect x="464.92" y="1288.42" width="10.35" height="105.98" fill="#69C47E"/>
<rect x="478.45" y="1297.04" width="10.35" height="97.36" fill="#D95319"/>
<rect x="489.8" y="1293.9" width="10.35" height="100.5" fill="#69C47E"/>
<rect x="503.33" y="1294.49" width="10.35" height="99.91" fill="#D95319"/>
<rect x="514.68" y="1291.16" width="10.35" height="103.24" fill="#69C47E"/>
<rect x="528.21" y="1296.06" width="10.35" height="98.34" fill="#D95319"/>
<rect x="539.56" y="1289.59" width="10.35" height="104.81" fill="#69C47E"/>
<rect x="553.09" y="1295.08" width="10.35" height="99.32" fill="#D95319"/>
<rect x="564.44" y="1284.89" width="10.35" height="109.51" fill="#69C47E"/>
<rect x="577.97" y="1292.34" width="10.35" height="102.06" fill="#D95319"/>
<rect x="589.32" y="1290.18" width="10.35" height="104.22" fill="#69C47E"/>
<rect x="602.85" y="1295.08" width="10.35" height="99.32" fill="#D95319"/>
<rect x="614.2" y="1289.4" width="10.35" height="105" fill="#69C47E"/>
<rect x="627.73" y="1287.83" width="10.35" height="106.57" fill="#D95319"/>
<rect x="639.08" y="1289.2" width="10.35" height="105.2" fill="#69C47E"/>
<rect x="652.61" y="1293.12" width="10.35" height="101.28" fill="#D95319"/>
<rect x="663.96" y="1288.22" width="10.35" height="106.18" fill="#69C47E"/>
<rect x="677.49" y="1293.12" width="10.35" height="101.28" fill="#D95319"/>
<rect x="688.84" y="1286.07" width="10.35" height="108.33" fill="#69C47E"/>
<rect x="702.37" y="1301.15" width="10.35" height="93.25" fill="#D95319"/>
<rect x="713.72" y="1282.93" width="10.35" height="111.47" fill="#69C47E"/>
<rect x="727.25" y="1304.68" width="10.35" height="89.72" fill="#D95319"/>
<rect x="738.6" y="1293.12" width="10.35" height="101.28" fill="#69C47E"/>
<rect x="752.13" y="1284.11" width="10.35" height="110.29" fill="#D95319"/>
<rect x="763.48" y="1298.02" width="10.35" height="96.38" fill="#69C47E"/>
<rect x="777.01" y="1293.12" width="10.35" height="101.28" fill="#D95319"/>
<rect x="788.36" y="1284.11" width="10.35" height="110.29" fill="#69C47E"/>
<line x1="427.1" y1="1198.5" x2="427.1" y2="1394.4" stroke="#7d7d7d" stroke-width="1.4"/>
<line x1="423.1" y1="1394.4" x2="427.1" y2="1394.4" stroke="#222" stroke-width="1"/>
<line x1="423.1" y1="1355.22" x2="427.1" y2="1355.22" stroke="#222" stroke-width="1"/>
<line x1="423.1" y1="1316.04" x2="427.1" y2="1316.04" stroke="#222" stroke-width="1"/>
<line x1="423.1" y1="1276.86" x2="427.1" y2="1276.86" stroke="#222" stroke-width="1"/>
<line x1="423.1" y1="1237.68" x2="427.1" y2="1237.68" stroke="#222" stroke-width="1"/>
<line x1="423.1" y1="1198.5" x2="427.1" y2="1198.5" stroke="#222" stroke-width="1"/>
<line x1="423.1" y1="1394.4" x2="800.3" y2="1394.4" stroke="#444" stroke-width="1.2"/>
<text x="413.6" y="1398.3" class="yl">0</text>
<text x="413.6" y="1359.12" class="yl">0.2</text>
<text x="413.6" y="1319.94" class="yl">0.4</text>
<text x="413.6" y="1280.76" class="yl">0.6</text>
<text x="413.6" y="1241.58" class="yl">0.8</text>
<text x="413.6" y="1202.4" class="yl">1</text>
<text class="xl" transform="translate(436.64 1403) rotate(-45)">AUD/USD (D)</text>
<text class="xl" transform="translate(461.52 1403) rotate(-45)">EUR/USD (D)</text>
<text class="xl" transform="translate(486.4 1403) rotate(-45)">GBP/USD (D)</text>
<text class="xl" transform="translate(511.28 1403) rotate(-45)">USD/CAD (D)</text>
<text class="xl" transform="translate(536.16 1403) rotate(-45)">USD/JPY (D)</text>
<text class="xl" transform="translate(561.04 1403) rotate(-45)">AUD/USD (W)</text>
<text class="xl" transform="translate(585.92 1403) rotate(-45)">EUR/USD (W)</text>
<text class="xl" transform="translate(610.8 1403) rotate(-45)">GBP/USD (W)</text>
<text class="xl" transform="translate(635.68 1403) rotate(-45)">USD/CAD (W)</text>
<text class="xl" transform="translate(660.56 1403) rotate(-45)">USD/JPY (W)</text>
<text class="xl" transform="translate(685.44 1403) rotate(-45)">AUD/USD (M)</text>
<text class="xl" transform="translate(710.32 1403) rotate(-45)">EUR/USD (M)</text>
<text class="xl" transform="translate(735.2 1403) rotate(-45)">GBP/USD (M)</text>
<text class="xl" transform="translate(760.08 1403) rotate(-45)">USD/CAD (M)</text>
<text class="xl" transform="translate(784.96 1403) rotate(-45)">USD/JPY (M)</text>
<circle cx="532.7" cy="1179.5" r="6.5" fill="#D95319"/>
<text x="547.8" y="1182.8" class="lg">Original data</text>
<circle cx="613.7" cy="1179.5" r="6.5" fill="#69C47E"/>
<text x="629.1" y="1182.8" class="lg">Denoised data</text>
<text class="cap" transform="translate(601.3 1469.9) scale(0.91 1)">(n) LSTM (DA)</text>
</svg>
<div class="note">
<div>(a)-(g) represent the MAPE of the predictive model,</div>
<div>where smaller values indicate higher predictive</div>
<div>performance. Conversely, (h)-(n) denote the DA of the</div>
<div>predictive model, where larger values signify better</div>
<div class="last">predictive performance.</div>
</div>
</body></html>
